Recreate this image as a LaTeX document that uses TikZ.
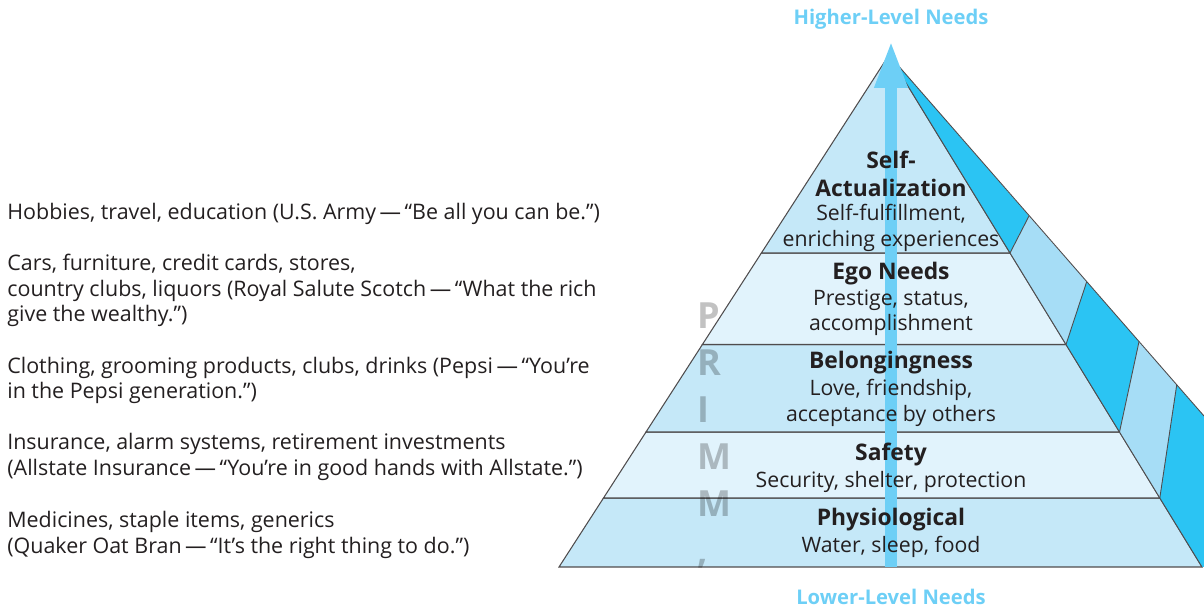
\documentclass[tikz,border=0pt]{standalone}
\usepackage{fontspec}
\setmainfont{Open Sans}
\usetikzlibrary{arrows.meta}
\definecolor{bandA}{HTML}{C5E8F8}
\definecolor{bandB}{HTML}{E1F3FC}
\definecolor{sideA}{HTML}{2BC4F3}
\definecolor{sideB}{HTML}{A6DDF6}
\definecolor{needs}{HTML}{6DCFF6}
\definecolor{ink}{HTML}{231F20}
\tikzset{
  level/.style = {draw=ink!80, line width=0.6pt},
  edge/.style = {draw=ink!80, line width=0.5pt},
  title/.style = {font=\fontsize{13}{15.9}\selectfont\bfseries, text=ink, align=center},
  desc/.style = {font=\fontsize{12.1}{14.5}\selectfont, text=ink, align=center},
  example/.style = {font=\fontsize{12.2}{14.5}\selectfont, text=ink, anchor=west, align=left, inner sep=0pt},
  needslabel/.style = {font=\fontsize{11.5}{13}\selectfont\bfseries, text=needs},
  watermark/.style = {font=\fontsize{20.5}{24}\selectfont\bfseries, text=black, text opacity=0.24, anchor=base west, inner sep=0pt}
}

\begin{document}
\begin{tikzpicture}[x=0.02cm, y=-0.02cm]
  \useasboundingbox (0,0) rectangle (1204,607);
  \coordinate (apex) at (889,55);
  \coordinate (base l) at (559,567);
  \coordinate (base r) at (1202,567);
  % levels of the front face
  \draw[level, fill=bandA] (base l) -- (base r) -- (1159.8,498) -- (603.5,498) -- cycle;
  \draw[level, fill=bandB] (603.5,498) -- (1159.8,498) -- (1119.5,432) -- (646,432) -- cycle;
  \draw[level, fill=bandA] (646,432) -- (1119.5,432) -- (1066,344.5) -- (702.4,344.5) -- cycle;
  \draw[level, fill=bandB] (702.4,344.5) -- (1066,344.5) -- (1010,253) -- (761.4,253) -- cycle;
  \draw[level, fill=bandA] (761.4,253) -- (1010,253) -- (apex) -- cycle;
  % side face
  \fill[sideA] (apex) -- (1029,216) -- (1010,253) -- cycle;
  \fill[sideB] (1029,216) -- (1086.7,281.7) -- (1066,344.5) -- (1010,253) -- cycle;
  \fill[sideA] (1086.7,281.7) -- (1139,341.7) -- (1119.5,432) -- (1066,344.5) -- cycle;
  \fill[sideB] (1139,341.7) -- (1176.7,385) -- (1159.8,498) -- (1119.5,432) -- cycle;
  \fill[sideA] (1176.7,385) -- (1204,416) -- (1204,567) -- (base r) -- (1159.8,498) -- cycle;
  \foreach \px/\py/\qx/\qy in {1010/253/1029/216, 1066/344.5/1086.7/281.7,
    1119.5/432/1139/341.7, 1159.8/498/1176.7/385}
    \draw[edge] (\px,\py) -- (\qx,\qy);
  \draw[edge] (apex) -- (1204,416);
  \draw[edge] (apex) -- (base r);
  % needs arrow
  \coordinate (arrow foot) at (891,567);
  \coordinate (arrow tip) at (891,40);
  \draw[needs, line width=0.24cm, -{Triangle[length=0.96cm, width=0.6cm]}] (arrow foot) -- (arrow tip);
  \node[needslabel] (higher) at (891,19) {Higher-Level Needs};
  \node[needslabel] (lower) at (891,597) {Lower-Level Needs};
  % level texts
  \node[title] (self) at (891,174) {Self-\\Actualization};
  \node[desc] (self d) at (891,228) {Self-fulfillment,\\enriching experiences};
  \node[title] (ego) at (891,274) {Ego Needs};
  \node[desc] (ego d) at (891,313) {Prestige, status,\\accomplishment};
  \node[title] (belong) at (891,363) {Belongingness};
  \node[desc] (belong d) at (891,403) {Love, friendship,\\acceptance by others};
  \node[title] (safety) at (891,455) {Safety};
  \node[desc] (safety d) at (891,482) {Security, shelter, protection};
  \node[title] (physio) at (891,520) {Physiological};
  \node[desc] (physio d) at (891,547) {Water, sleep, food};
  % examples
  \node[example] (ex self) at (7,214) {Hobbies, travel, education (U.S. Army\,---\,“Be all you can be.”)};
  \node[example] (ex ego) at (7,290.5) {Cars, furniture, credit cards, stores,\\country clubs, liquors (Royal Salute Scotch\,---\,“What the rich\\give the wealthy.”)};
  \node[example] (ex belong) at (7,380.5) {Clothing, grooming products, clubs, drinks (Pepsi\,---\,“You’re\\in the Pepsi generation.”)};
  \node[example] (ex safety) at (7,457) {Insurance, alarm systems, retirement investments\\(Allstate Insurance\,---\,“You’re in good hands with Allstate.”)};
  \node[example] (ex physio) at (7,535) {Medicines, staple items, generics\\(Quaker Oat Bran\,---\,“It’s the right thing to do.”)};
  % PRIMM,
  \foreach \ch [count=\i] in {P,R,I,M,M,{,}}
    \node[watermark] (wm\i) at (697,282+47*\i) {\ch};
\end{tikzpicture}
\end{document}
